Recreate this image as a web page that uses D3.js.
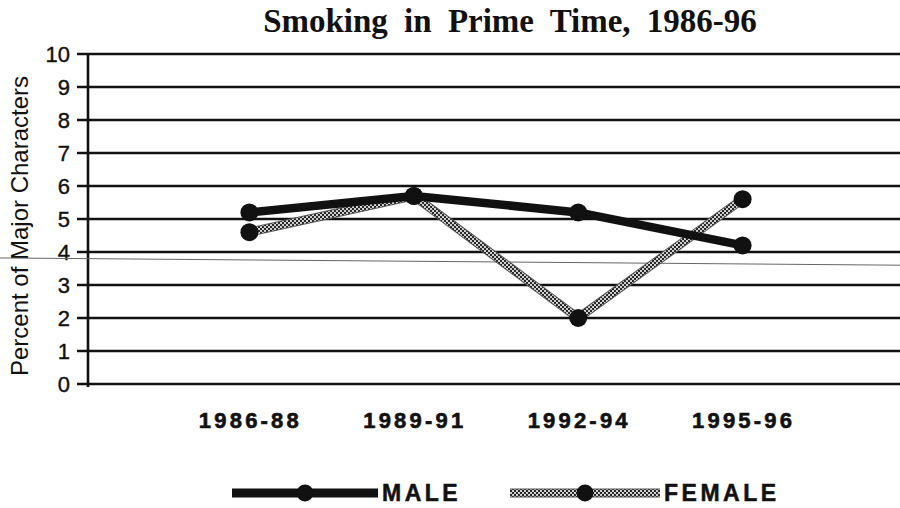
<!DOCTYPE html>
<html>
<head>
<meta charset="utf-8">
<script src="https://cdn.jsdelivr.net/npm/d3@7"></script>
<style>
  body { margin: 0; background: #fff; }
  svg { display: block; }
</style>
</head>
<body>
<div id="chart"></div>
<script>
var periods = ['1986-88', '1989-91', '1992-94', '1995-96'];
var maleValues = [5.2, 5.7, 5.2, 4.2];
var femaleValues = [4.6, 5.7, 2.0, 5.6];
var yTicks = [0, 1, 2, 3, 4, 5, 6, 7, 8, 9, 10];
var seriesNames = ['MALE', 'FEMALE'];

var width = 900, height = 508;

var svg = d3.select('#chart').append('svg')
    .attr('width', width)
    .attr('height', height);

var defs = svg.append('defs');
var hatch = defs.append('pattern')
    .attr('id', 'hatch')
    .attr('patternUnits', 'userSpaceOnUse')
    .attr('width', 4)
    .attr('height', 4);
hatch.append('rect').attr('width', 4).attr('height', 4).attr('fill', '#cfcfcf');
hatch.append('rect').attr('width', 2).attr('height', 2).attr('fill', '#2a2a2a');
hatch.append('rect').attr('x', 2).attr('y', 2).attr('width', 2).attr('height', 2).attr('fill', '#2a2a2a');

var x = d3.scalePoint()
    .domain(periods)
    .range([85, 907])
    .padding(1);

var y = d3.scaleLinear()
    .domain([0, 10])
    .range([384, 54]);

var axisX = 88;

// title
svg.append('text')
    .attr('x', 510)
    .attr('y', 32)
    .attr('text-anchor', 'middle')
    .style('font-family', '"Liberation Serif", "Times New Roman", serif')
    .style('font-weight', 'bold')
    .style('font-size', '33px')
    .style('word-spacing', '8px')
    .style('fill', '#111')
    .text('Smoking in Prime Time, 1986-96');

// gridlines with tick stubs
svg.append('g').selectAll('line')
    .data(yTicks)
    .enter().append('line')
    .attr('x1', 77)
    .attr('x2', width)
    .attr('y1', function (d) { return y(d); })
    .attr('y2', function (d) { return y(d); })
    .style('stroke', '#111')
    .style('stroke-width', 2.6);

// y axis line
svg.append('line')
    .attr('x1', axisX).attr('x2', axisX)
    .attr('y1', y(10) - 1).attr('y2', y(0) + 3)
    .style('stroke', '#111')
    .style('stroke-width', 2.6);

// y tick labels
svg.append('g').selectAll('text')
    .data(yTicks)
    .enter().append('text')
    .attr('x', 70)
    .attr('y', function (d) { return y(d); })
    .attr('dy', '0.36em')
    .attr('text-anchor', 'end')
    .style('font-family', '"Liberation Sans", Arial, sans-serif')
    .style('font-size', '22px')
    .style('fill', '#111')
    .style('stroke', '#111')
    .style('stroke-width', 0.4)
    .text(function (d) { return d; });

// y axis title
svg.append('text')
    .attr('transform', 'translate(28,' + 226 + ') rotate(-90)')
    .attr('text-anchor', 'middle')
    .style('font-family', '"Liberation Sans", Arial, sans-serif')
    .style('font-size', '24px')
    .style('fill', '#111')
    .text('Percent of Major Characters');

// x labels
svg.append('g').selectAll('text')
    .data(periods)
    .enter().append('text')
    .attr('x', function (d) { return x(d); })
    .attr('dx', 1)
    .attr('y', 428)
    .attr('text-anchor', 'middle')
    .style('font-family', '"Liberation Sans", Arial, sans-serif')
    .style('font-weight', 'bold')
    .style('font-size', '22px')
    .style('letter-spacing', '3.2px')
    .style('fill', '#111')
    .style('stroke', '#111')
    .style('stroke-width', 0.6)
    .text(function (d) { return d; });

// stray scan line
svg.append('line')
    .attr('x1', 0).attr('x2', width)
    .attr('y1', y(3.82)).attr('y2', y(3.6))
    .style('stroke', '#666')
    .style('stroke-width', 1);

var line = d3.line()
    .x(function (d, i) { return x(periods[i]); })
    .y(function (d) { return y(d); });

// female line (hatched)
svg.append('path')
    .datum(femaleValues)
    .attr('d', line)
    .style('fill', 'none')
    .style('stroke', '#555')
    .style('stroke-width', 9);
svg.append('path')
    .datum(femaleValues)
    .attr('d', line)
    .style('fill', 'none')
    .style('stroke', 'url(#hatch)')
    .style('stroke-width', 7);

// male line
svg.append('path')
    .datum(maleValues)
    .attr('d', line)
    .style('fill', 'none')
    .style('stroke', '#111')
    .style('stroke-width', 8.5)
    .style('stroke-linejoin', 'round');

// markers
[femaleValues, maleValues].forEach(function (vals) {
    svg.append('g').selectAll('circle')
        .data(vals)
        .enter().append('circle')
        .attr('cx', function (d, i) { return x(periods[i]); })
        .attr('cy', function (d) { return y(d); })
        .attr('r', 9)
        .style('fill', '#111');
});

// legend
var legendY = 493;
var legendItems = [
    { name: seriesNames[0], x1: 232, x2: 378, stroke: '#111', pattern: false },
    { name: seriesNames[1], x1: 510, x2: 660, stroke: 'url(#hatch)', pattern: true }
];
var lg = svg.append('g').selectAll('g')
    .data(legendItems)
    .enter().append('g');

lg.filter(function (d) { return d.pattern; }).append('line')
    .attr('x1', function (d) { return d.x1; })
    .attr('x2', function (d) { return d.x2; })
    .attr('y1', legendY).attr('y2', legendY)
    .style('stroke', '#555')
    .style('stroke-width', 9);

lg.append('line')
    .attr('x1', function (d) { return d.x1; })
    .attr('x2', function (d) { return d.x2; })
    .attr('y1', legendY).attr('y2', legendY)
    .style('stroke', function (d) { return d.stroke; })
    .style('stroke-width', function (d) { return d.pattern ? 7 : 9; });

lg.append('circle')
    .attr('cx', function (d) { return (d.x1 + d.x2) / 2; })
    .attr('cy', legendY)
    .attr('r', 8.5)
    .style('fill', '#111');

lg.append('text')
    .attr('x', function (d) { return d.x2 + 4; })
    .attr('y', legendY)
    .attr('dy', '0.36em')
    .style('font-family', '"Liberation Sans", Arial, sans-serif')
    .style('font-weight', 'bold')
    .style('font-size', '23px')
    .style('letter-spacing', '3.5px')
    .style('fill', '#111')
    .style('stroke', '#111')
    .style('stroke-width', 0.5)
    .text(function (d) { return d.name; });
</script>
</body>
</html>
